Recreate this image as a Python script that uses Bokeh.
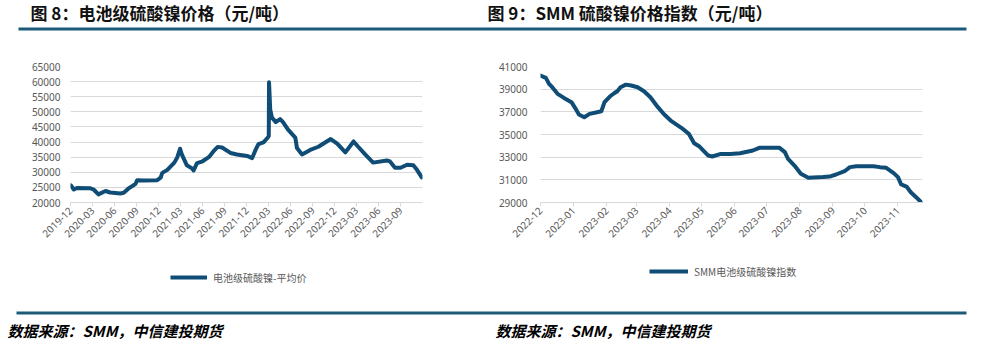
import math
import pandas as pd
from bokeh.plotting import figure
from bokeh.models import (Range1d, FixedTicker, DatetimeTickFormatter, NumeralTickFormatter,
                          Legend, LegendItem, Label)
from bokeh.layouts import column, row
from bokeh.embed import file_html
from bokeh.resources import INLINE

# ---------------- data ----------------
left_title = "图 8：电池级硫酸镍价格（元/吨）"
right_title = "图 9：SMM 硫酸镍价格指数（元/吨）"
source_note = "数据来源：SMM，中信建投期货"
left_series_name = "电池级硫酸镍-平均价"
right_series_name = "SMM电池级硫酸镍指数"

left_dates = ["2019-12-02", "2019-12-15", "2019-12-28", "2020-02-22", "2020-03-06", "2020-03-26",
              "2020-04-24", "2020-05-14", "2020-06-25", "2020-07-09", "2020-07-30", "2020-08-13",
              "2020-08-27", "2020-09-03", "2020-10-01", "2020-11-25", "2020-12-09", "2020-12-16",
              "2021-01-06", "2021-02-04", "2021-02-16", "2021-02-28", "2021-03-07", "2021-03-28",
              "2021-04-18", "2021-04-25", "2021-05-09", "2021-05-29", "2021-06-27", "2021-07-16",
              "2021-08-03", "2021-08-21", "2021-09-25", "2021-10-22", "2021-12-03", "2021-12-24",
              "2022-01-07", "2022-01-19", "2022-02-09", "2022-02-27", "2022-03-03", "2022-03-04",
              "2022-03-09", "2022-03-16", "2022-04-01", "2022-04-19", "2022-05-01", "2022-05-22",
              "2022-06-21", "2022-06-28", "2022-07-19", "2022-08-22", "2022-09-25", "2022-11-15",
              "2022-12-12", "2023-01-15", "2023-02-18", "2023-03-09", "2023-04-07", "2023-05-10",
              "2023-07-06", "2023-07-19", "2023-08-09", "2023-09-01", "2023-09-28", "2023-10-24",
              "2023-11-08", "2023-11-28"]
left_values = [25700, 24300, 24800, 24700, 24300, 22700,
               23800, 23300, 23000, 23200, 24700, 25400,
               26200, 27400, 27300, 27400, 28200, 29800,
               30800, 33200, 34900, 37800, 35900, 32300,
               31300, 30600, 33000, 33500, 35000, 36900,
               38400, 38200, 36400, 35900, 35400, 34700,
               37400, 39300, 39900, 41500, 42000, 59800,
               50700, 48150, 46600, 47600, 46600, 44100,
               41500, 38000, 35900, 37400, 38450, 41000,
               39500, 36600, 40200, 38450, 35900, 33200,
               33900, 33600, 31500, 31500, 32500, 32300,
               30800, 28300]

right_dates = ["2022-12-01", "2022-12-06", "2022-12-09", "2022-12-12", "2022-12-17", "2022-12-23",
               "2022-12-30", "2023-01-03", "2023-01-06", "2023-01-11", "2023-01-16", "2023-01-22",
               "2023-01-27", "2023-01-30", "2023-02-04", "2023-02-08", "2023-02-11", "2023-02-14",
               "2023-02-19", "2023-02-24", "2023-03-02", "2023-03-08", "2023-03-14", "2023-03-21",
               "2023-03-27", "2023-04-02", "2023-04-12", "2023-04-19", "2023-04-24", "2023-04-29",
               "2023-05-07", "2023-05-11", "2023-05-19", "2023-05-28", "2023-06-06", "2023-06-18",
               "2023-06-24", "2023-07-13", "2023-07-18", "2023-07-21", "2023-07-27", "2023-08-02",
               "2023-08-09", "2023-08-23", "2023-08-29", "2023-09-04", "2023-09-12", "2023-09-17",
               "2023-09-23", "2023-10-09", "2023-10-15", "2023-10-21", "2023-10-28", "2023-11-01",
               "2023-11-04", "2023-11-09", "2023-11-13", "2023-11-18", "2023-11-23"]
right_values = [40200, 40000, 39470, 39170, 38590, 38230,
                37850, 37260, 36760, 36520, 36820, 36940,
                37050, 37850, 38350, 38640, 38820, 39170,
                39400, 39320, 39170, 38820, 38290, 37410,
                36760, 36230, 35590, 35060, 34230, 33940,
                33150, 33060, 33290, 33290, 33350, 33590,
                33820, 33820, 33440, 32850, 32260, 31530,
                31180, 31240, 31290, 31470, 31760, 32120,
                32200, 32200, 32120, 32060, 31590, 31240,
                30590, 30410, 29910, 29470, 29000]

left_xticks = ["2019-12-01", "2020-03-01", "2020-06-01", "2020-09-01", "2020-12-01", "2021-03-01",
               "2021-06-01", "2021-09-01", "2021-12-01", "2022-03-01", "2022-06-01", "2022-09-01",
               "2022-12-01", "2023-03-01", "2023-06-01", "2023-09-01"]
left_yticks = [20000, 25000, 30000, 35000, 40000, 45000, 50000, 55000, 60000, 65000]
left_xrange = ["2019-12-01", "2023-12-01"]

right_xticks = ["2022-12-01", "2023-01-01", "2023-02-01", "2023-03-01", "2023-04-01", "2023-05-01",
                "2023-06-01", "2023-07-01", "2023-08-01", "2023-09-01", "2023-10-01", "2023-11-01"]
right_yticks = [29000, 31000, 33000, 35000, 37000, 39000, 41000]
right_xrange = ["2022-12-01", "2023-11-24"]

# ---------------- style ----------------
LINE = "#0f4d76"
RULE = "#1d5a78"
GRID = "#d9d9d9"
TXT = "#595959"
TICK_FONT = "Noto Sans"
CJK = "Noto Sans CJK SC"
LINE_W = 4
W = 982
HALF = 491


def ms(s):
    return pd.Timestamp(s).value // 10**6


def date_fmt():
    f = "%Y-%m"
    return DatetimeTickFormatter(milliseconds=f, seconds=f, minsec=f, minutes=f, hourmin=f,
                                 hours=f, days=f, months=f, years=f)


def make_chart(dates, values, xticks, yticks, xr, borders, ystand):
    left, right, top, bottom = borders
    p = figure(width=HALF, height=224, x_axis_type="datetime",
               x_range=Range1d(ms(xr[0]), ms(xr[1])),
               y_range=Range1d(yticks[0], yticks[-1]),
               toolbar_location=None, output_backend="svg",
               min_border_left=left, min_border_right=right,
               min_border_top=top, min_border_bottom=bottom)
    p.outline_line_color = None
    p.xgrid.visible = False
    p.ygrid.grid_line_color = GRID
    p.ygrid.grid_line_width = 1

    xa = p.xaxis[0]
    xa.ticker = FixedTicker(ticks=[ms(t) for t in xticks])
    xa.formatter = date_fmt()
    xa.major_label_orientation = math.pi / 4
    xa.axis_line_color = GRID
    xa.major_tick_line_color = GRID
    xa.major_tick_in = 0
    xa.major_tick_out = 4
    xa.minor_tick_line_color = None
    xa.major_label_text_font = TICK_FONT
    xa.major_label_text_font_size = "10px"
    xa.major_label_text_color = TXT
    xa.major_label_standoff = 2

    ya = p.yaxis[0]
    ya.ticker = FixedTicker(ticks=yticks)
    ya.formatter = NumeralTickFormatter(format="0")
    ya.axis_line_color = None
    ya.major_tick_line_color = None
    ya.minor_tick_line_color = None
    ya.major_tick_in = 0
    ya.major_tick_out = 0
    ya.major_label_standoff = ystand
    ya.major_label_text_font = TICK_FONT
    ya.major_label_text_font_size = "10px"
    ya.major_label_text_color = TXT

    p.line(x=pd.to_datetime(dates), y=values, line_color=LINE, line_width=LINE_W,
           line_join="round", line_cap="round")
    return p


def make_legend(name, glyph_w, loc):
    # legend strip under each chart (proxy renderer carries the series style)
    lp = figure(width=HALF, height=38, x_range=Range1d(0, 1), y_range=Range1d(0, 1),
                x_axis_location=None, y_axis_location=None, toolbar_location=None,
                output_backend="svg", min_border=0)
    lp.outline_line_color = None
    lp.grid.visible = False
    proxy = lp.line(x=[float("nan")], y=[float("nan")], line_color=LINE, line_width=LINE_W)
    leg = Legend(items=[LegendItem(label=name, renderers=[proxy])], location=loc,
                 orientation="horizontal", padding=0, margin=0, spacing=0,
                 glyph_width=glyph_w, glyph_height=20, label_height=20,
                 label_standoff=6, label_text_font=CJK, label_text_font_size="10px",
                 label_text_color=TXT, border_line_alpha=0, background_fill_alpha=0)
    lp.add_layout(leg)
    return lp


p1 = make_chart(left_dates, left_values, left_xticks, left_yticks, left_xrange,
                (70, 69, 22, 55), 10)
p2 = make_chart(right_dates, right_values, right_xticks, right_yticks, right_xrange,
                (49, 60, 28, 60), 13)
l1 = make_legend(left_series_name, 37, (170, 13))
l2 = make_legend(right_series_name, 39, (158, 19))


def band(height):
    p = figure(width=W, height=height, x_range=Range1d(0, W), y_range=Range1d(0, height),
               x_axis_location=None, y_axis_location=None, toolbar_location=None,
               output_backend="svg", min_border=0)
    p.outline_line_color = None
    p.grid.visible = False
    return p


header = band(38)
header.segment(x0=[18], y0=[9.5], x1=[966], y1=[9.5], line_color=RULE, line_width=3)
for xx, t in ((30, left_title), (487, right_title)):
    header.add_layout(Label(x=xx, y=26.5, text=t, text_font=CJK, text_font_size="17px",
                            text_font_style="bold", text_color="#111111",
                            text_baseline="middle", text_align="left"))

footer = band(56)
footer.segment(x0=[16], y0=[43.5], x1=[966], y1=[43.5], line_color=RULE, line_width=3)
for xx in (7, 495):
    footer.add_layout(Label(x=xx, y=26, text=source_note, text_font=CJK, text_font_size="15px",
                            text_font_style="bold italic", text_color="#000000",
                            text_baseline="middle", text_align="left"))

layout = column(header, row(p1, p2, spacing=0), row(l1, l2, spacing=0), footer, spacing=0)
open("out.html", "w").write(file_html(layout, INLINE))
